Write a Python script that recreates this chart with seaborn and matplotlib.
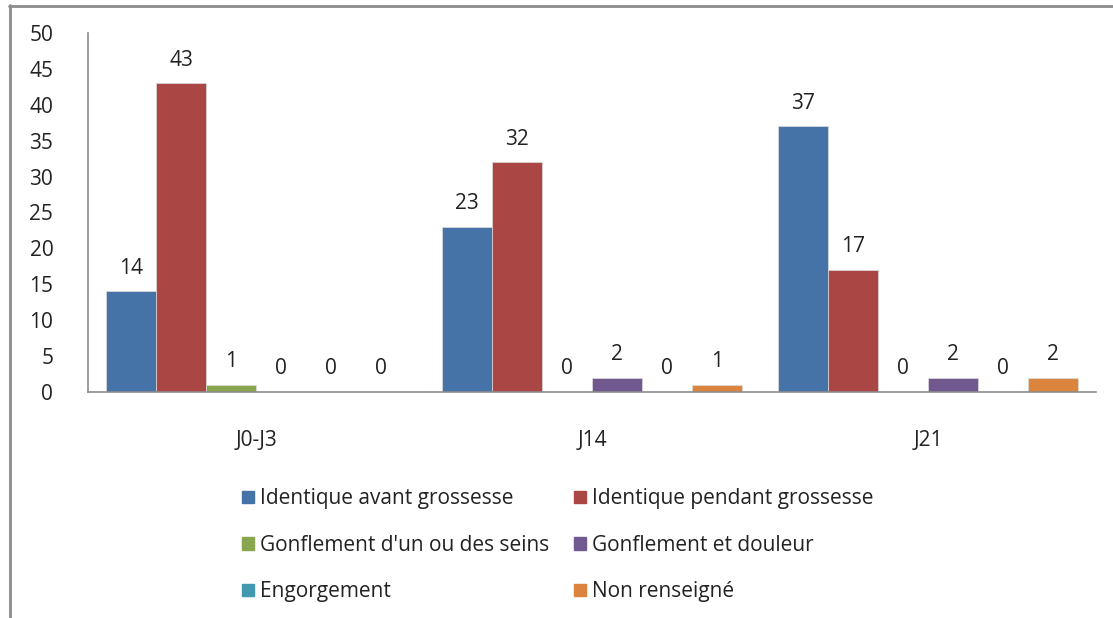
import pandas as pd
import matplotlib.pyplot as plt
import seaborn as sns
from matplotlib.lines import Line2D

periodes = ["J0-J3", "J14", "J21"]
series = ["Identique avant grossesse", "Identique pendant grossesse",
          "Gonflement d'un ou des seins", "Gonflement et douleur",
          "Engorgement", "Non renseigné"]
avant = [14, 23, 37]
pendant = [43, 32, 17]
gonfl_seins = [1, 0, 0]
gonfl_douleur = [0, 2, 2]
engorgement = [0, 0, 0]
non_renseigne = [0, 1, 2]
couleurs = ["#4572A7", "#AA4643", "#89A54E", "#71588F", "#4198AF", "#DB843D"]

valeurs = [avant, pendant, gonfl_seins, gonfl_douleur, engorgement, non_renseigne]
rows = []
for s, vals in zip(series, valeurs):
    for p, v in zip(periodes, vals):
        rows.append({"Periode": p, "Serie": s, "Valeur": v})
df = pd.DataFrame(rows)

sns.set_style("white")
plt.rcParams['font.family'] = ['Open Sans', 'DejaVu Sans']

fig = plt.figure(figsize=(11.13, 6.18), dpi=100)
ax = fig.add_axes([88 / 1113, 1 - 392 / 618, 1008 / 1113, 359 / 618])

sns.barplot(data=df, x="Periode", y="Valeur", hue="Serie", hue_order=series,
            order=periodes, palette=couleurs, width=300 / 336, saturation=1,
            legend=False, ax=ax, linewidth=0.5, edgecolor="#dddddd")

for cont in ax.containers:
    ax.bar_label(cont, fmt="%d", padding=9, fontsize=15, color="#222222")

ax.set_ylim(0, 50)
ax.set_yticks(range(0, 51, 5))
ax.set_xlim(-0.5, 2.5)
ax.set_xlabel("")
ax.set_ylabel("")
ax.tick_params(axis="both", length=0, labelsize=15, colors="#222222")
ax.tick_params(axis="y", pad=25)
ax.tick_params(axis="x", pad=27)
for side in ["top", "right"]:
    ax.spines[side].set_visible(False)
for side in ["left", "bottom"]:
    ax.spines[side].set_color("#8c8c8c")
    ax.spines[side].set_linewidth(1.2)

# legende remplie par lignes (2 colonnes)
ordre = [0, 2, 4, 1, 3, 5]
handles = [plt.Rectangle((0, 0), 1, 1, color=couleurs[i]) for i in ordre]
labels = [series[i] for i in ordre]
fig.legend(handles, labels, loc="upper left", bbox_to_anchor=(234 / 1113, 1 - 480 / 618),
           ncol=2, frameon=False, fontsize=15, handlelength=0.55, handleheight=0.55,
           handletextpad=0.3, columnspacing=1.2, labelspacing=1.22, labelcolor="#222222",
           borderaxespad=0)

# cadre du graphique (haut et gauche)
fig.add_artist(Line2D([9 / 1113, 1], [1 - 5.5 / 618] * 2, transform=fig.transFigure,
                      color="#8c8c8c", lw=2))
fig.add_artist(Line2D([9.5 / 1113] * 2, [0, 1 - 5 / 618], transform=fig.transFigure,
                      color="#8c8c8c", lw=2))

fig.savefig("out.png", dpi=100)
